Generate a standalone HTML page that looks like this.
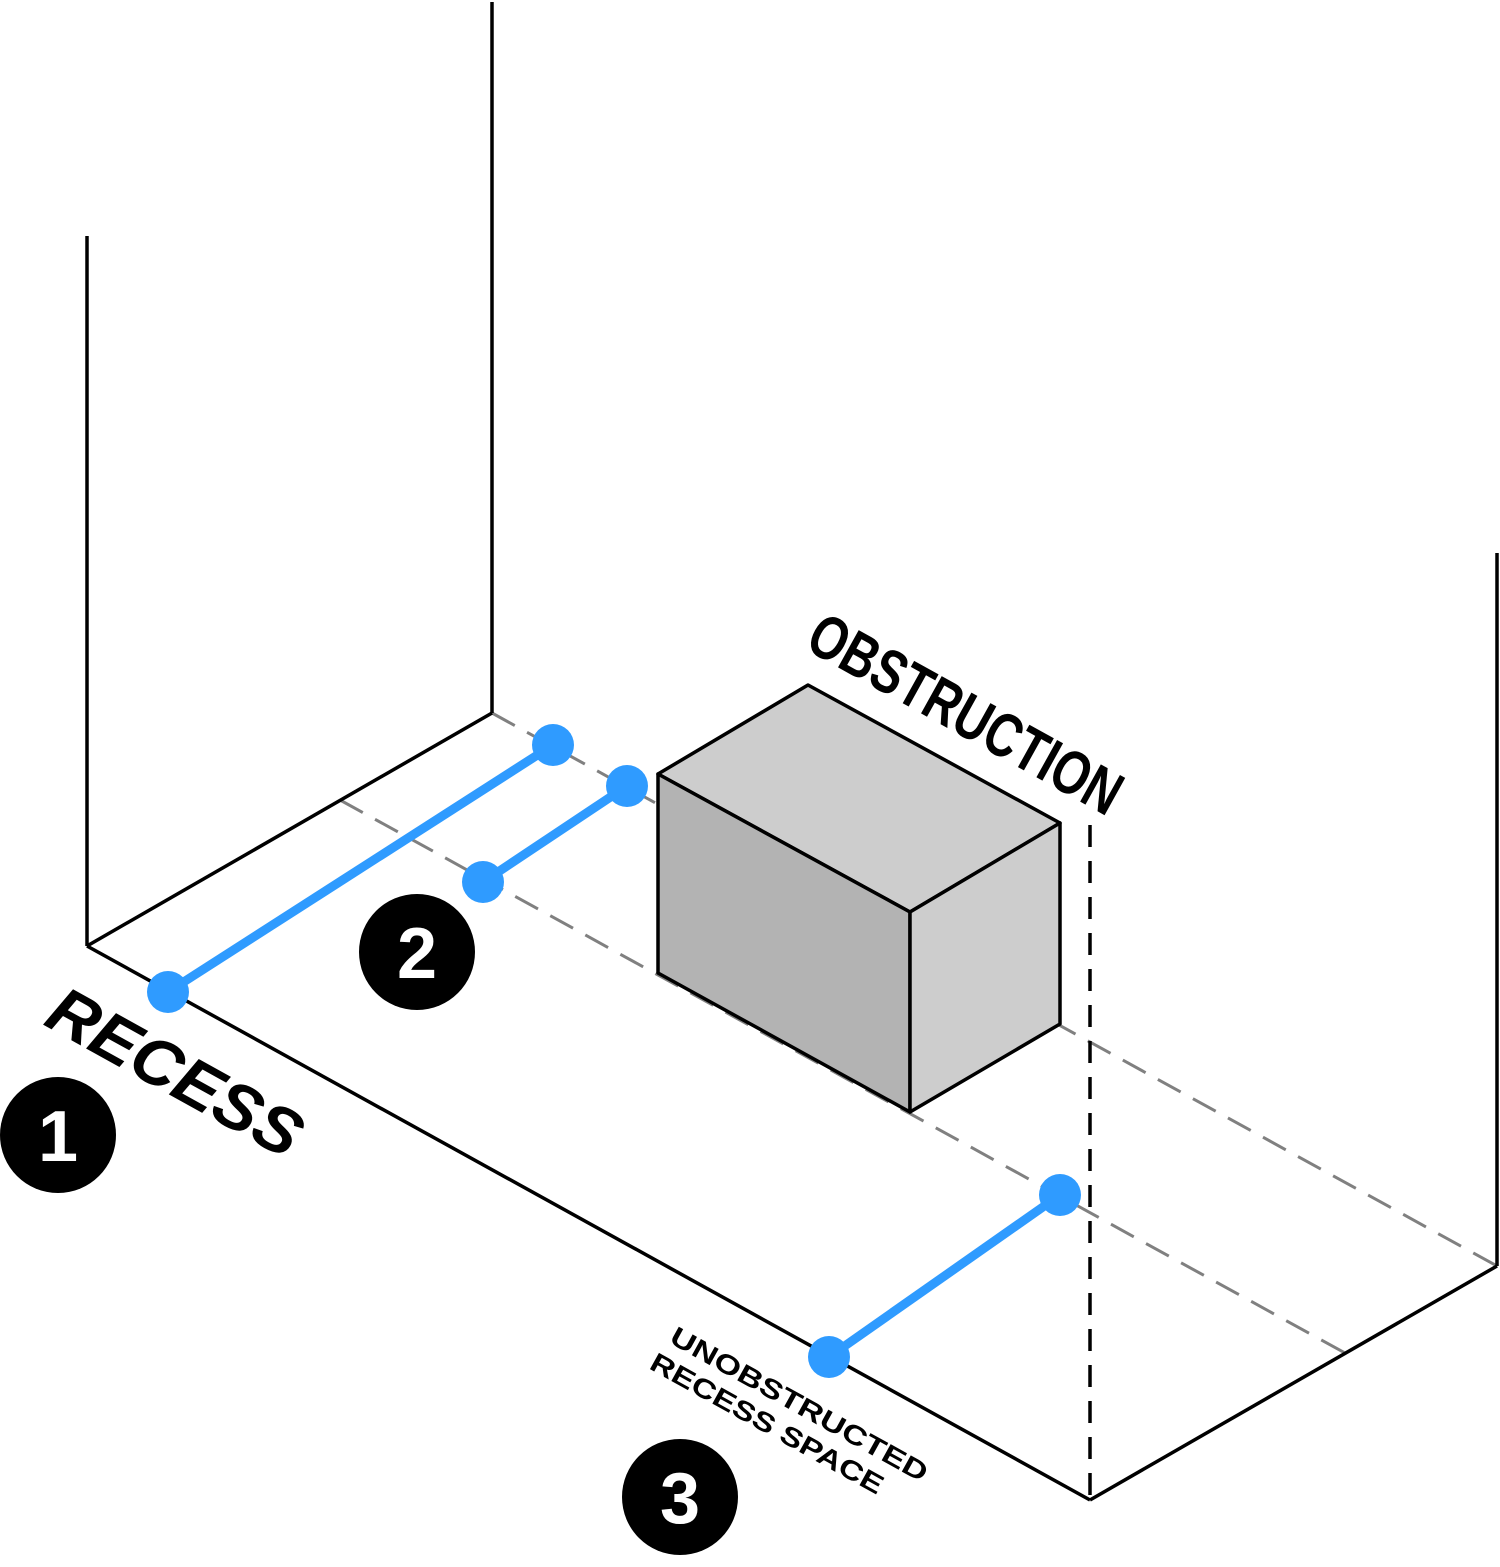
<!DOCTYPE html>
<html><head><meta charset="utf-8"><style>html,body{margin:0;padding:0;background:#fff}svg{display:block}</style></head>
<body>
<svg width="1500" height="1567" viewBox="0 0 1500 1567" xmlns="http://www.w3.org/2000/svg" font-family="Liberation Sans, sans-serif">
<g stroke="#808080" stroke-width="3" stroke-dasharray="26,14" fill="none">
<line x1="492" y1="713" x2="1497" y2="1266"/>
<line x1="340" y1="800" x2="1345" y2="1353"/>
</g>
<g stroke="#000" stroke-width="3.5" fill="none">
<line x1="87" y1="236" x2="87" y2="946"/>
<line x1="492" y1="2" x2="492" y2="713"/>
<line x1="87" y1="946" x2="492" y2="713"/>
<line x1="87" y1="946" x2="1090" y2="1500"/>
<line x1="1497" y1="553" x2="1497" y2="1266"/>
<line x1="1090" y1="1500" x2="1497" y2="1266"/>
<line x1="1090" y1="825" x2="1090" y2="1500" stroke-dasharray="22,14"/>
</g>
<g stroke="#000" stroke-width="3.5" stroke-linejoin="round">
<polygon points="658,774 808,685 1060,823 910,912" fill="#cdcdcd"/>
<polygon points="658,774 910,912 910,1112 658,973" fill="#b3b3b3"/>
<polygon points="910,912 1060,823 1060,1024 910,1112" fill="#cdcdcd"/>
</g>
<g stroke="#2f9bff" stroke-width="9">
<line x1="168" y1="992" x2="553" y2="745"/>
<line x1="483" y1="882" x2="627" y2="786"/>
<line x1="829" y1="1357" x2="1060" y2="1195"/>
</g>
<g fill="#2f9bff">
<circle cx="168" cy="992" r="21"/><circle cx="553" cy="745" r="21"/>
<circle cx="483" cy="882" r="21"/><circle cx="627" cy="786" r="21"/>
<circle cx="829" cy="1357" r="21"/><circle cx="1060" cy="1195" r="21"/>
</g>
<g fill="#000"><circle cx="58" cy="1135" r="58"/><circle cx="417" cy="952" r="58"/><circle cx="680" cy="1497" r="58"/></g>
<g fill="#fff" font-weight="bold" font-size="72" text-anchor="middle">
<text x="58" y="1161">1</text><text x="417" y="978">2</text><text x="680" y="1523">3</text>
</g>
<text transform="translate(42,1024) rotate(29)" font-size="66" font-weight="bold" font-style="italic" textLength="280" lengthAdjust="spacingAndGlyphs">RECESS</text>
<text transform="translate(803,648) rotate(29)" font-size="62" font-weight="bold" textLength="348" lengthAdjust="spacingAndGlyphs">OBSTRUCTION</text>
<text transform="translate(668,1342) rotate(29)" font-size="27" font-weight="bold" textLength="290" lengthAdjust="spacingAndGlyphs">UNOBSTRUCTED</text>
<text transform="translate(648,1368) rotate(29)" font-size="27" font-weight="bold" textLength="262" lengthAdjust="spacingAndGlyphs">RECESS SPACE</text>
</svg>
</body></html>
